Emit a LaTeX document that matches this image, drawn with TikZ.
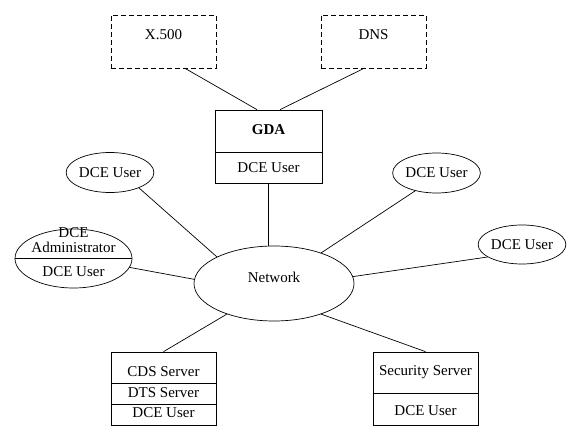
\documentclass[tikz,border=0pt]{standalone}
\usepackage{fontspec}
\setmainfont{Liberation Serif}
\usetikzlibrary{shapes.geometric}

\begin{document}
\begin{tikzpicture}[x=1pt,y=-1pt,line width=0.7pt,
  font=\fontsize{15}{15}\selectfont,
  dirbox/.style={draw,dash pattern=on 5pt off 3pt,minimum width=105pt,minimum height=53pt,inner sep=0pt},
  srvbox/.style={draw,minimum width=105pt,minimum height=73pt,inner sep=0pt},
  user/.style={draw,ellipse,inner sep=0pt,minimum width=85pt,minimum height=40pt},
  txt/.style={inner sep=0pt,align=center}]
\useasboundingbox (0,0) rectangle (580,435);
\node[dirbox] (x500) at (163.5,41.5) {};
\node[dirbox] (dns) at (373.5,41.5) {};
\node[txt] (x500txt) at ([yshift=6.5pt]x500.center) {X.500};
\node[txt] (dnstxt) at ([yshift=6.5pt]dns.center) {DNS};
\node[srvbox,minimum width=107pt] (gda) at (268.5,146.5) {};
\draw ([yshift=-5.5pt]gda.west) -- ([yshift=-5.5pt]gda.east);
\node[txt] (gdatxt) at ([yshift=17pt]gda.center) {\bfseries GDA};
\node[txt] (gdausr) at ([yshift=-21.5pt]gda.center) {DCE User};
\node[draw,ellipse,minimum width=160pt,minimum height=75pt] (net) at (274,283.5) {};
\node[txt] (nettxt) at ([yshift=6.5pt]net.center) {Network};
\node[user,minimum width=84pt] (usr1) at (110,172.5) {DCE User};
\node[user] (usr2) at (436.5,173) {DCE User};
\node[user,minimum width=86pt,minimum height=39pt] (usr3) at (522,244.5) {DCE User};
\node[draw,ellipse,minimum width=117pt,minimum height=59pt] (adm) at (73.5,258.5) {};
\draw (adm.west) -- (adm.east);
\node[txt] (admtxt) at ([yshift=18pt]adm.center) {DCE\\Administrator};
\node[txt] (admusr) at ([yshift=-13.5pt]adm.center) {DCE User};
\node[srvbox] (cds) at (163.5,388.5) {};
\draw ([yshift=5.5pt]cds.west) -- ([yshift=5.5pt]cds.east);
\draw ([yshift=-15.5pt]cds.west) -- ([yshift=-15.5pt]cds.east);
\node[txt] (cdstxt) at ([yshift=16.5pt]cds.center) {CDS Server};
\node[txt] (dtstxt) at ([yshift=-4.5pt]cds.center) {DTS Server};
\node[txt] (cdsusr) at ([yshift=-24.5pt]cds.center) {DCE User};
\node[srvbox] (sec) at (425.5,388.5) {};
\draw ([yshift=-4.5pt]sec.west) -- ([yshift=-4.5pt]sec.east);
\node[txt] (sectxt) at ([yshift=16.5pt]sec.center) {Security Server};
\node[txt] (secusr) at ([yshift=-22.5pt]sec.center) {DCE User};
\draw ([xshift=21.5pt]x500.south) -- ([xshift=-11.5pt]gda.north);
\draw ([xshift=-9.5pt]dns.south) -- ([xshift=11.5pt]gda.north);
\draw (gda.south) -- (gda.south |- net.north);
\draw (usr1.-28) -- (net.155);
\draw (usr2.-140) -- (net.33);
\draw (usr3.-160) -- (net.5);
\draw (adm.-9) -- (net.177);
\draw (cds.north) -- (net.-147);
\draw (sec.north) -- (net.-33);
\end{tikzpicture}
\end{document}
